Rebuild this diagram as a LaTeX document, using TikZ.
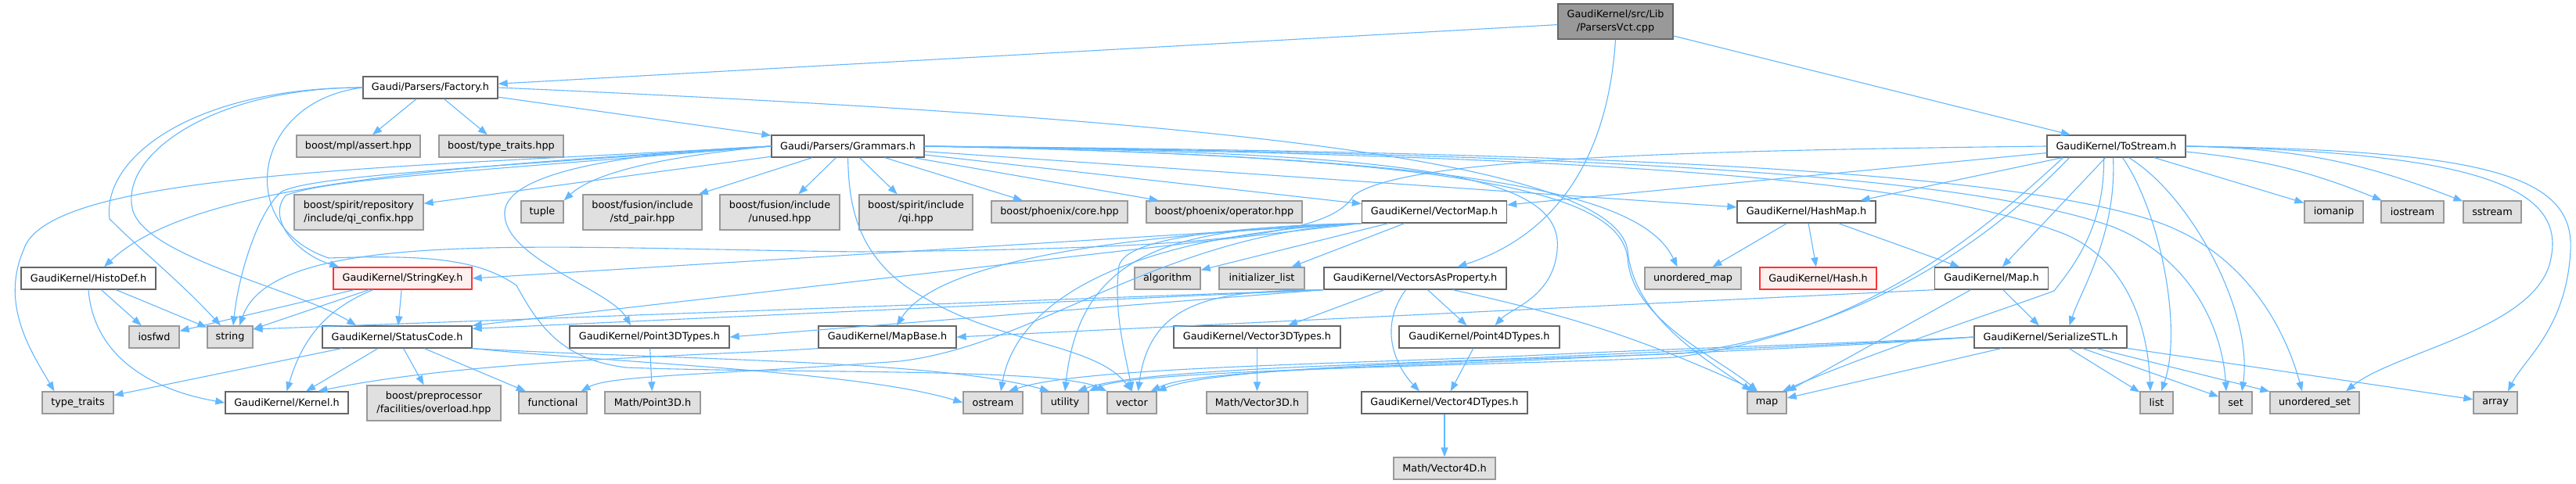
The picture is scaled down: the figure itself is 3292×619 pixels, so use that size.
\documentclass[tikz,border=0pt]{standalone}
\usepackage{fontspec}
\setmainfont{DejaVu Sans}
\usepackage{tikz}
\usetikzlibrary{arrows.meta}

\definecolor{incblue}{HTML}{63B8FF}
\definecolor{hdrline}{HTML}{666666}
\definecolor{sysline}{HTML}{999999}
\definecolor{sysfill}{HTML}{E0E0E0}
\definecolor{rootfill}{HTML}{999999}
\definecolor{truncline}{HTML}{FF3333}
\definecolor{truncfill}{HTML}{FFF0F0}

\begin{document}
\begin{tikzpicture}[x=0.5pt, y=-0.5pt,
    every node/.style={font=\fontsize{6.4}{8.4}\selectfont, inner sep=0pt, minimum height=14pt, line width=0.65pt, align=center},
    hdr/.style={draw=hdrline, fill=white},
    sys/.style={draw=sysline, fill=sysfill},
    trunc/.style={draw=truncline, fill=truncfill},
    rootbox/.style={draw=hdrline, fill=rootfill},
    two/.style={minimum height=22.5pt},
    inc/.style={draw=incblue, line width=0.55pt, -{Triangle[length=6pt,width=4.5pt]}}]
  \useasboundingbox[fill=white] (0,0) rectangle (3292,619);

  % row 0 and 1
  \node[rootbox, two, minimum width=73.5pt] (root) at (2064.5,27.5) {GaudiKernel/src/Lib\\/ParsersVct.cpp};
  \node[hdr, minimum width=86pt] (factory) at (550,112) {Gaudi/Parsers/Factory.h};
  % row 2
  \node[sys, minimum width=79pt] (assert) at (458,187) {boost/mpl/assert.hpp};
  \node[sys, minimum width=79.5pt] (btraits) at (640.5,187) {boost/type\_traits.hpp};
  \node[hdr, minimum width=97.5pt] (grammars) at (1083.5,187) {Gaudi/Parsers/Grammars.h};
  \node[hdr, minimum width=88.5pt] (tostream) at (2704.5,187) {GaudiKernel/ToStream.h};
  % row 3
  \node[sys, two, minimum width=82.5pt] (confix) at (458.5,271.5) {boost/spirit/repository\\/include/qi\_confix.hpp};
  \node[sys, minimum width=27pt] (tuple) at (693,271) {tuple};
  \node[sys, two, minimum width=76pt] (stdpair) at (821,271.5) {boost/fusion/include\\/std\_pair.hpp};
  \node[sys, two, minimum width=76.5pt] (unused) at (996.5,271.5) {boost/fusion/include\\/unused.hpp};
  \node[sys, two, minimum width=72.5pt] (qi) at (1170.5,271.5) {boost/spirit/include\\/qi.hpp};
  \node[sys, minimum width=87pt] (phxcore) at (1354,271) {boost/phoenix/core.hpp};
  \node[sys, minimum width=99.5pt] (phxop) at (1564.5,271) {boost/phoenix/operator.hpp};
  \node[hdr, minimum width=92.5pt] (vecmap) at (1833,271) {GaudiKernel/VectorMap.h};
  \node[hdr, minimum width=88.5pt] (hashmap) at (2308.5,271) {GaudiKernel/HashMap.h};
  \node[sys, minimum width=37.5pt] (iomanip) at (2982.5,271) {iomanip};
  \node[sys, minimum width=40pt] (iostream) at (3083,271) {iostream};
  \node[sys, minimum width=37pt] (sstream) at (3185,271) {sstream};
  % row 4
  \node[hdr, minimum width=86pt] (histodef) at (113,356) {GaudiKernel/HistoDef.h};
  \node[trunc, minimum width=88.5pt] (strkey) at (514.5,356) {GaudiKernel/StringKey.h};
  \node[sys, minimum width=42pt] (algorithm) at (1492,356) {algorithm};
  \node[sys, minimum width=54.5pt] (initlist) at (1612.5,356) {initializer\_list};
  \node[hdr, minimum width=116.5pt] (vecprop) at (1808.5,356) {GaudiKernel/VectorsAsProperty.h};
  \node[sys, minimum width=61.5pt] (umap) at (2163.5,356) {unordered\_map};
  \node[trunc, minimum width=74.5pt] (hash) at (2323.5,356) {GaudiKernel/Hash.h};
  \node[hdr, minimum width=72.5pt] (gmap) at (2545,356) {GaudiKernel/Map.h};
  % row 5
  \node[sys, minimum width=32pt] (iosfwd) at (197,431) {iosfwd};
  \node[sys, minimum width=29pt] (string) at (294,431) {string};
  \node[hdr, minimum width=95.5pt] (status) at (507.5,431) {GaudiKernel/StatusCode.h};
  \node[hdr, minimum width=102pt] (pt3d) at (830,431) {GaudiKernel/Point3DTypes.h};
  \node[hdr, minimum width=88pt] (mapbase) at (1134,431) {GaudiKernel/MapBase.h};
  \node[hdr, minimum width=106.5pt] (vec3d) at (1606.5,431) {GaudiKernel/Vector3DTypes.h};
  \node[hdr, minimum width=102.5pt] (pt4d) at (1890.5,431) {GaudiKernel/Point4DTypes.h};
  \node[hdr, minimum width=97.5pt] (serial) at (2620.5,431) {GaudiKernel/SerializeSTL.h};
  % row 6
  \node[sys, minimum width=45.5pt] (traits) at (99.5,515) {type\_traits};
  \node[hdr, minimum width=78.5pt] (kernel) at (366.5,515) {GaudiKernel/Kernel.h};
  \node[sys, two, minimum width=85.5pt] (overload) at (554.5,515.5) {boost/preprocessor\\/facilities/overload.hpp};
  \node[sys, minimum width=43.5pt] (functional) at (706.5,515) {functional};
  \node[sys, minimum width=61pt] (mpt3d) at (834,515) {Math/Point3D.h};
  \node[sys, minimum width=38pt] (ostream) at (1269,515) {ostream};
  \node[sys, minimum width=30pt] (utility) at (1361,515) {utility};
  \node[sys, minimum width=31.5pt] (vector) at (1446.5,515) {vector};
  \node[sys, minimum width=64.5pt] (mvec3d) at (1606.5,515) {Math/Vector3D.h};
  \node[hdr, minimum width=106pt] (vec4d) at (1846,515) {GaudiKernel/Vector4DTypes.h};
  \node[sys, minimum width=25pt] (map) at (2258,515) {map};
  \node[sys, minimum width=21pt] (list) at (2756,515) {list};
  \node[sys, minimum width=21pt] (set) at (2857,515) {set};
  \node[sys, minimum width=57pt] (uset) at (2958,515) {unordered\_set};
  \node[sys, minimum width=28pt] (array) at (3189,515) {array};
  % row 7
  \node[sys, minimum width=65pt] (mvec4d) at (1846,599) {Math/Vector4D.h};

  % short includes
  \foreach \a/\b in {root/factory, root/tostream,
      factory/assert, factory/btraits, factory/grammars,
      grammars/confix, grammars/stdpair, grammars/unused, grammars/qi,
      grammars/phxcore, grammars/phxop, grammars/vecmap, grammars/hashmap,
      tostream/vecmap, tostream/hashmap, tostream/gmap, tostream/iomanip,
      vecmap/algorithm, vecmap/initlist, vecprop/vec3d, vecprop/pt4d,
      hashmap/umap, hashmap/hash, hashmap/gmap, gmap/map, gmap/serial,
      serial/map, serial/list, serial/set, serial/uset, serial/array,
      histodef/iosfwd, histodef/string, strkey/iosfwd, strkey/string, strkey/status,
      status/traits, status/kernel, status/overload, status/functional,
      pt3d/mpt3d, vec3d/mvec3d, pt4d/vec4d, vec4d/mvec4d}
    \draw[inc] (\a) -- (\b);
  \draw[inc] (vecmap.south west) -- (strkey.east);
  \draw[inc] (vecmap.south west) -- (status.north east);
  \draw[inc] (vecprop.south west) -- (pt3d.east);
  \draw[inc] (vecprop.south west) -- ([yshift=-2pt]status.north east);
  \draw[inc] (vecprop.south west) -- ([yshift=5pt]string.east);
  \draw[inc] (gmap.south west) -- (mapbase.east);
  \draw[inc] ([xshift=24pt]vecprop.south) to[bend left=6] ([xshift=-6pt]map.north);
  \draw[inc] (tostream) to[bend left=8] (iostream);
  \draw[inc] (tostream) to[bend left=10] (sstream);

  % root
  \draw[inc] (root.south) .. controls (2055,200) and (1990,300) .. ([xshift=27pt]vecprop.north);
  % factory
  \draw[inc] (factory.west) .. controls (250,112) and (130,200) .. (140,280) .. controls (180,320) and (230,360) .. ([xshift=-6pt]string.north);
  \draw[inc] (factory.west) .. controls (270,112) and (150,200) .. (170,270) .. controls (190,330) and (380,370) .. ([xshift=22pt]status.north west);
  \draw[inc] (factory.west) .. controls (320,130) and (300,290) .. (420,330) .. controls (540,326) and (610,330) .. (660,365)
     .. controls (690,420) and (720,460) .. (800,470) .. controls (1000,478) and (1350,470) .. (vector.north west);
  \draw[inc] (factory.east) .. controls (1500,150) and (2060,200) .. (2080,320) .. controls (2088,410) and (2190,465) .. ([xshift=-10pt]map.north);
  % grammars, to the left
  \draw[inc] (grammars.west) .. controls (850,200) and (760,220) .. (tuple.north east);
  \draw[inc] (grammars.west) .. controls (600,212) and (250,230) .. ([xshift=10pt]histodef.north);
  \draw[inc] (grammars.west) .. controls (500,215) and (60,220) .. (30,320) .. controls (0,390) and (40,450) .. ([xshift=-15pt]traits.north);
  \draw[inc] (grammars.west) .. controls (600,215) and (400,225) .. (360,245) .. controls (330,270) and (305,350) .. ([xshift=2pt]string.north);
  \draw[inc] (grammars.west) .. controls (620,218) and (420,228) .. (365,250) .. controls (340,280) and (380,325) .. ([xshift=4pt]strkey.north west);
  \draw[inc] (grammars.west) .. controls (800,195) and (650,220) .. (645,270) .. controls (640,330) and (780,370) .. ([xshift=-12pt]pt3d.north);
  \draw[inc] (grammars.south) .. controls (1085,250) and (1088,330) .. (1180,380) .. controls (1280,440) and (1400,440) .. (vector.north);
  % grammars, to the right
  \draw[inc] (grammars.east) .. controls (1900,200) and (2100,250) .. ([xshift=-10pt]umap.north);
  \draw[inc] (grammars.east) .. controls (1900,200) and (2070,250) .. (2080,330) .. controls (2085,410) and (2200,460) .. ([xshift=-6pt]map.north);
  \draw[inc] (grammars.east) .. controls (2000,198) and (2450,225) .. (2640,300) .. controls (2720,335) and (2745,420) .. ([xshift=-4pt]list.north);
  \draw[inc] (grammars.east) .. controls (2000,196) and (2500,220) .. (2700,290) .. controls (2800,330) and (2840,420) .. ([xshift=-6pt]set.north);
  \draw[inc] (grammars.east) .. controls (2000,194) and (2560,215) .. (2760,285) .. controls (2870,325) and (2920,420) .. ([xshift=-8pt]uset.north);
  \draw[inc] (grammars.east) .. controls (1800,195) and (2000,220) .. (1990,320) .. controls (1985,380) and (1930,395) .. ([xshift=10pt]pt4d.north);
  % tostream
  \draw[inc] (tostream.west) .. controls (2100,193) and (1790,205) .. (1730,250) .. controls (1700,300) and (1560,318) .. (1100,322)
     .. controls (700,318) and (350,290) .. ([xshift=6pt]string.north);
  \draw[inc] ([xshift=-30pt]tostream.south) .. controls (2560,290) and (2400,420) .. (2150,452) .. controls (1900,462) and (1560,468) .. (vector.north east);
  \draw[inc] ([xshift=-34pt]tostream.south) .. controls (2540,290) and (2390,425) .. (2140,457) .. controls (1900,468) and (1450,472) .. (utility.north east);
  \draw[inc] ([xshift=-8pt]tostream.south) .. controls (2690,290) and (2650,340) .. (2625,372) .. controls (2560,396) and (2380,455) .. ([xshift=10pt]map.north);
  \draw[inc] ([xshift=-2pt]tostream.south) .. controls (2705,300) and (2660,370) .. ([xshift=12pt]serial.north);
  \draw[inc] ([xshift=4pt]tostream.south) .. controls (2760,270) and (2790,420) .. ([xshift=3pt]list.north);
  \draw[inc] ([xshift=8pt]tostream.south) .. controls (2800,250) and (2880,400) .. ([xshift=4pt]set.north);
  \draw[inc] (tostream.east) .. controls (3150,195) and (3280,235) .. (3260,330) .. controls (3245,420) and (3060,450) .. ([xshift=20pt]uset.north);
  \draw[inc] (tostream.east) .. controls (3180,192) and (3290,225) .. (3285,320) .. controls (3280,420) and (3225,460) .. ([xshift=8pt]array.north);
  % vectormap
  \draw[inc] (vecmap.south west) .. controls (1450,300) and (1200,330) .. ([xshift=6pt]mapbase.north);
  \draw[inc] (vecmap.south west) .. controls (1450,300) and (1300,380) .. ([xshift=5pt]ostream.north);
  \draw[inc] (vecmap.south west) .. controls (1500,290) and (1380,320) .. (utility.north);
  \draw[inc] (vecmap.south west) .. controls (1600,290) and (1440,300) .. (1430,340) .. controls (1422,400) and (1440,460) .. (vector.north);
  \draw[inc] (vecmap.south west) .. controls (1480,300) and (1330,440) .. (1150,462) .. controls (900,480) and (780,480) .. ([xshift=18pt]functional.north);
  % vectorsasproperty
  \draw[inc] (vecprop.south west) .. controls (1560,372) and (1470,380) .. ([xshift=4pt]vector.north);
  \draw[inc] ([xshift=-6pt]vecprop.south) .. controls (1760,420) and (1785,470) .. ([xshift=-16pt]vec4d.north);
  % serializestl
  \draw[inc] (serial.west) .. controls (2350,440) and (2150,445) .. (1950,455) .. controls (1700,466) and (1380,470) .. ([xshift=10pt]ostream.north);
  \draw[inc] (serial.west) .. controls (2350,442) and (2150,448) .. (1950,458) .. controls (1700,468) and (1450,474) .. ([xshift=8pt]utility.north);
  \draw[inc] (serial.west) .. controls (2350,444) and (2150,451) .. (1950,461) .. controls (1700,471) and (1520,476) .. ([xshift=-4pt]vector.north east);
  % the rest
  \draw[inc] (histodef.south) .. controls (120,460) and (200,500) .. (kernel.west);
  \draw[inc] ([xshift=-19pt]strkey.south) .. controls (430,390) and (390,420) .. (kernel.north);
  \draw[inc] (mapbase.south west) .. controls (900,455) and (600,460) .. ([xshift=20pt]kernel.north);
  \draw[inc] (status.south east) .. controls (800,465) and (1100,475) .. (ostream.west);
  \draw[inc] (status.south east) .. controls (850,460) and (1200,460) .. ([xshift=-10pt]utility.north);
\end{tikzpicture}
\end{document}
